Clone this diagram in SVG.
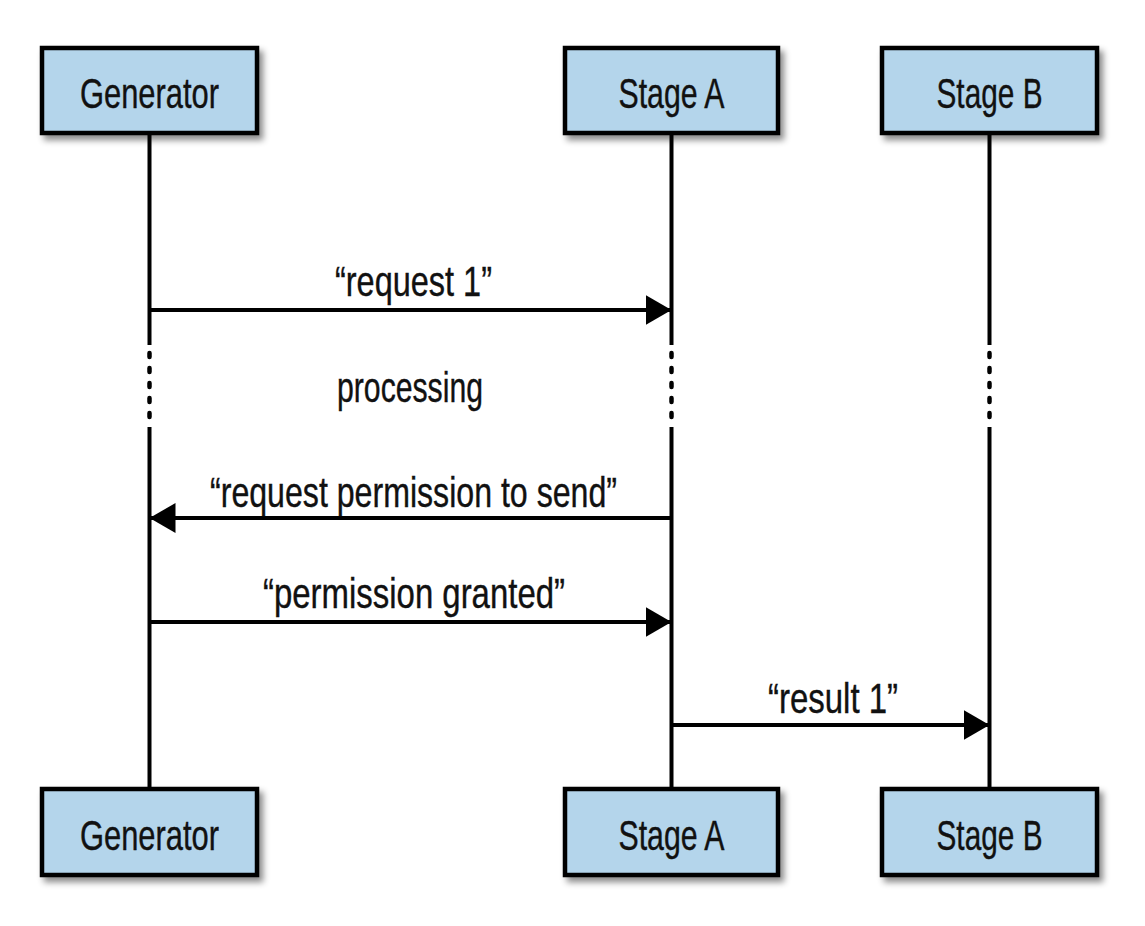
<svg xmlns="http://www.w3.org/2000/svg" width="1145" height="926" viewBox="0 0 1145 926">
<defs>
<filter id="sh" x="-10%" y="-10%" width="130%" height="140%">
<feDropShadow dx="4" dy="5" stdDeviation="3" flood-color="#000" flood-opacity="0.45"/>
</filter>
<marker id="ah" viewBox="0 0 26 30" refX="26" refY="15" markerWidth="26" markerHeight="30" markerUnits="userSpaceOnUse" orient="auto">
<path d="M0,0 L26,15 L0,30 Z" fill="#000"/>
</marker>
<style>
.box{fill:#b4d5eb;stroke:#000;stroke-width:4.5;filter:url(#sh)}
.t{font-family:"Liberation Sans",Arial,sans-serif;font-size:43px;fill:#111;text-anchor:middle;stroke:#111;stroke-width:0.4}
.life{stroke:#000;stroke-width:4;fill:none}
.dot{stroke:#000;stroke-width:4.5;fill:none;stroke-dasharray:4 11;stroke-linecap:round}
.msg{stroke:#000;stroke-width:4;fill:none;marker-end:url(#ah)}
.lbl{font-family:"Liberation Sans",Arial,sans-serif;font-size:43px;fill:#111;stroke:#111;stroke-width:0.4}
</style>
</defs>
<rect width="1145" height="926" fill="#fff"/>
<g id="lifelines">
<path class="life" d="M149.5,133 V345 M149.5,427 V788"/>
<path class="dot" d="M149.5,353 V425"/>
<path class="life" d="M671.5,133 V345 M671.5,427 V788"/>
<path class="dot" d="M671.5,353 V425"/>
<path class="life" d="M989.5,133 V345 M989.5,427 V788"/>
<path class="dot" d="M989.5,353 V425"/>
</g>
<g id="gen-top"><rect class="box" x="42" y="48" width="215" height="85"/><text class="t" x="149.5" y="108" textLength="139" lengthAdjust="spacingAndGlyphs">Generator</text></g>
<g id="a-top"><rect class="box" x="565" y="48" width="213" height="85"/><text class="t" x="671.5" y="108" textLength="106" lengthAdjust="spacingAndGlyphs">Stage A</text></g>
<g id="b-top"><rect class="box" x="882" y="48" width="215" height="85"/><text class="t" x="989.5" y="108" textLength="106" lengthAdjust="spacingAndGlyphs">Stage B</text></g>
<g id="gen-bot"><rect class="box" x="42" y="789" width="215" height="86"/><text class="t" x="149.5" y="850" textLength="139" lengthAdjust="spacingAndGlyphs">Generator</text></g>
<g id="a-bot"><rect class="box" x="565" y="789" width="213" height="86"/><text class="t" x="671.5" y="850" textLength="106" lengthAdjust="spacingAndGlyphs">Stage A</text></g>
<g id="b-bot"><rect class="box" x="882" y="789" width="215" height="86"/><text class="t" x="989.5" y="850" textLength="106" lengthAdjust="spacingAndGlyphs">Stage B</text></g>
<g id="connectors">
<path class="msg" d="M149.5,310 H671.5"/>
<path class="msg" d="M671.5,518 H149.5"/>
<path class="msg" d="M149.5,622 H671.5"/>
<path class="msg" d="M671.5,725 H989.5"/>
</g>
<g id="labels">
<text class="lbl" x="335" y="296" textLength="157" lengthAdjust="spacingAndGlyphs">“request 1”</text>
<text class="lbl" x="337" y="402" textLength="146" lengthAdjust="spacingAndGlyphs">processing</text>
<text class="lbl" x="210" y="507" textLength="407" lengthAdjust="spacingAndGlyphs">“request permission to send”</text>
<text class="lbl" x="263" y="608" textLength="302" lengthAdjust="spacingAndGlyphs">“permission granted”</text>
<text class="lbl" x="768" y="713" textLength="130" lengthAdjust="spacingAndGlyphs">“result 1”</text>
</g>
</svg>
